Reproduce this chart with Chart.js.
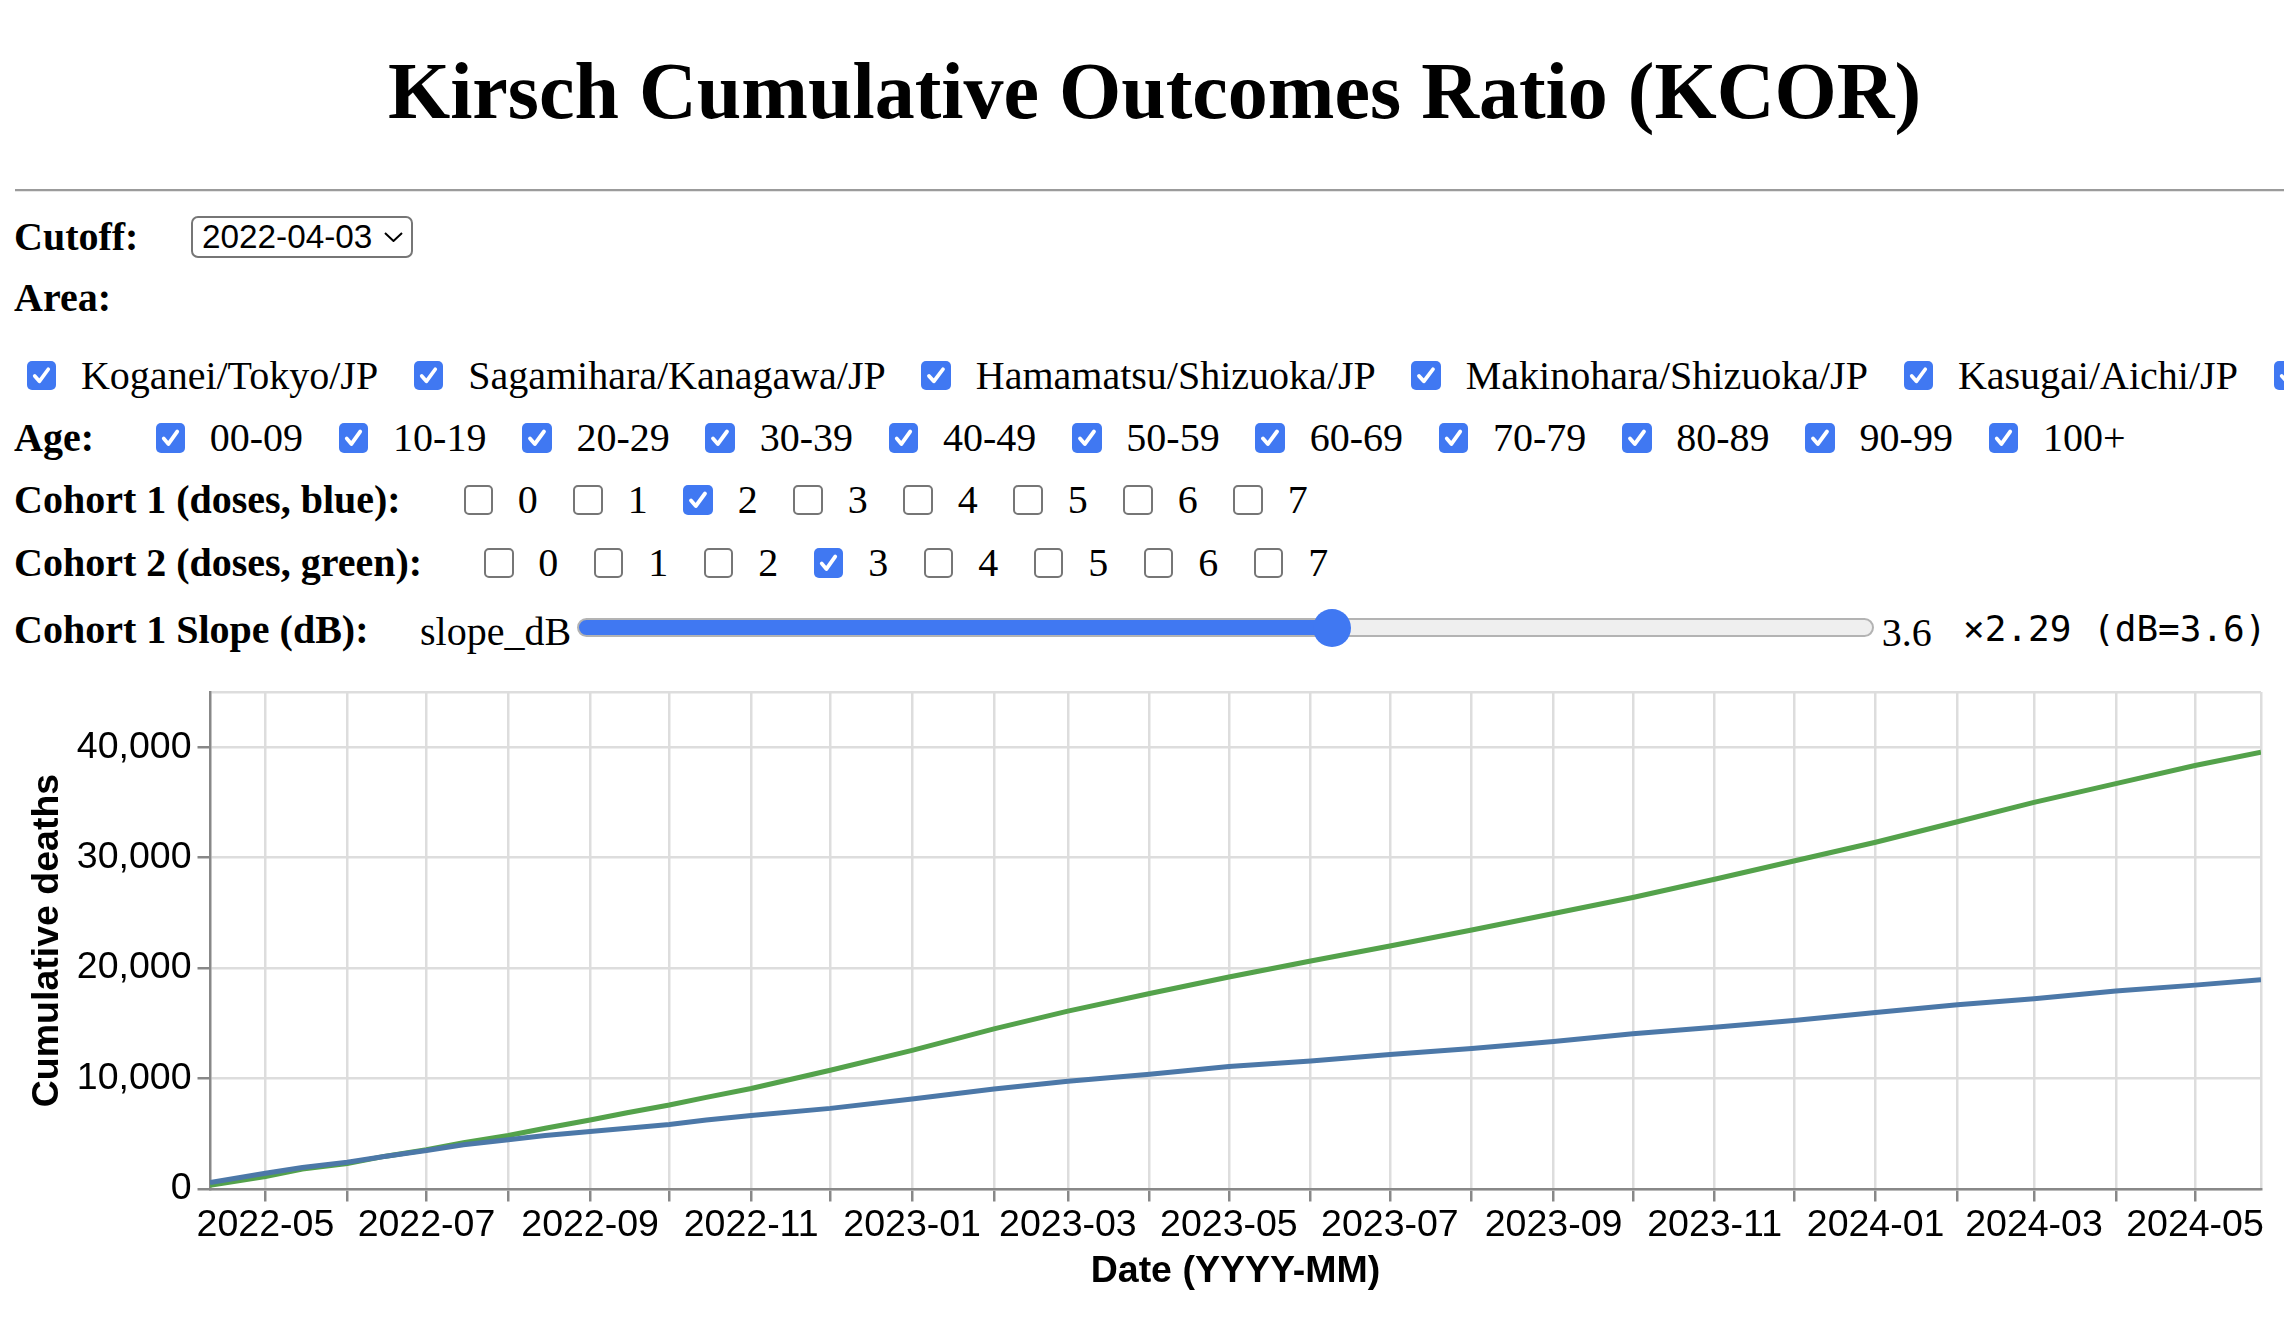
<!DOCTYPE html>
<html>
<head>
<meta charset="utf-8">
<title>Kirsch Cumulative Outcomes Ratio (KCOR)</title>
<script src="https://cdn.jsdelivr.net/npm/chart.js@4.4.1/dist/chart.umd.min.js"></script>
<style>
  html, body { margin: 0; padding: 0; overflow: hidden; background: #fff; }
  body { width: 2284px; height: 1333px; position: relative; color: #000;
         font-family: "Liberation Serif", "Times New Roman", serif; }
  .abs { position: absolute; white-space: nowrap; }
  h1 { position: absolute; left: 0; width: 2309px; top: 41px; margin: 0; text-align: center;
       font-size: 80px; line-height: 100px; font-weight: bold; }
  .rule { position: absolute; left: 15px; width: 2290px; top: 189px; height: 0;
          border-top: 2.5px solid #9b9b9b; border-bottom: 1px solid #e6e6e6; }
  .row-label { font-weight: bold; font-size: 40px; line-height: 50px; }
  .items { display: flex; align-items: center; font-size: 40px; line-height: 50px; height: 50px; }
  .item { display: flex; align-items: center; margin-right: 35.7px; }
  .item span { margin-left: 24.8px; }
  input[type=checkbox] { -webkit-appearance: none; appearance: none; margin: 0; flex: none;
       width: 29.5px; height: 29.5px; border-radius: 5px; box-sizing: border-box;
       border: 2.5px solid #767676; background: #fff; }
  input[type=checkbox]:checked { border: none;
       background: #4078f2 url("data:image/svg+xml,%3Csvg xmlns='http://www.w3.org/2000/svg' viewBox='0 0 30 30'%3E%3Cpath d='M8 15.5 L12.8 21 L22 8.5' fill='none' stroke='white' stroke-width='3.8' stroke-linecap='round' stroke-linejoin='round'/%3E%3C/svg%3E") center / 100% 100% no-repeat; }
  select { position: absolute; left: 191px; top: 215.7px; width: 222px; height: 42.6px; margin: 0;
       -webkit-appearance: none; appearance: none; box-sizing: border-box;
       font: 33.3px "Liberation Sans", Arial, sans-serif; color: #000;
       border: 2.5px solid #767676; border-radius: 7px; padding: 0 0 0 9px;
       background: #fff url("data:image/svg+xml,%3Csvg xmlns='http://www.w3.org/2000/svg' viewBox='0 0 19 10'%3E%3Cpath d='M1 1 L9.5 9 L18 1' fill='none' stroke='black' stroke-width='2'/%3E%3C/svg%3E") no-repeat 190.5px center / 19px 10px; }
  input[type=range] { position: absolute; left: 577px; top: 618px; width: 1297px; height: 19px; margin: 0;
       -webkit-appearance: none; appearance: none; background: transparent; }
  input[type=range]::-webkit-slider-runnable-track { height: 19px; box-sizing: border-box;
       border: 2px solid #b3b3b3; border-radius: 10px; background: var(--fill, #efefef); }
  input[type=range]::-webkit-slider-thumb { -webkit-appearance: none; appearance: none;
       width: 38px; height: 38px; border-radius: 50%; background: #4078f2; border: none; margin-top: -11.5px; }
  .plain { font-size: 40px; line-height: 50px; }
  .mono { font-family: "DejaVu Sans Mono", monospace; font-size: 36px; line-height: 44px; }
  #chart-box { position: absolute; left: 0; top: 640px; width: 2284px; height: 680px; }
</style>
</head>
<body>
<h1>Kirsch Cumulative Outcomes Ratio (KCOR)</h1>
<div class="rule"></div>

<div class="abs row-label" style="left:14px; top:211.5px">Cutoff:</div>
<select id="cutoff"><option>2022-04-03</option></select>

<div class="abs row-label" style="left:14px; top:273px">Area:</div>
<div class="abs items area" id="areas" style="left:26.7px; top:350.5px"></div>

<div class="abs row-label" style="left:14px; top:413px">Age:</div>
<div class="abs items" id="ages" style="left:155.5px; top:413px"></div>

<div class="abs row-label" style="left:14px; top:475px">Cohort 1 (doses, blue):</div>
<div class="abs items" id="cohort1" style="left:463.5px; top:475px"></div>

<div class="abs row-label" style="left:14px; top:538px">Cohort 2 (doses, green):</div>
<div class="abs items" id="cohort2" style="left:484px; top:538px"></div>

<div class="abs row-label" style="left:14px; top:604.5px">Cohort 1 Slope (dB):</div>
<div class="abs plain" style="left:420px; top:606.5px">slope_dB</div>
<input type="range" id="slope" min="-4" max="9" step="0.1" value="3.6">
<div class="abs plain" id="slope-value" style="left:1881.7px; top:608.2px">3.6</div>
<div class="abs mono" id="slope-factor" style="left:1963px; top:607px">×2.29 (dB=3.6)</div>

<div id="chart-box"><canvas id="kcor-chart"></canvas></div>

<script>
"use strict";

// controls
const areas = ["Koganei/Tokyo/JP", "Sagamihara/Kanagawa/JP", "Hamamatsu/Shizuoka/JP",
  "Makinohara/Shizuoka/JP", "Kasugai/Aichi/JP"];
const ages = ["00-09", "10-19", "20-29", "30-39", "40-49", "50-59", "60-69",
  "70-79", "80-89", "90-99", "100+"];
const doses = [0, 1, 2, 3, 4, 5, 6, 7];
const cohort1Doses = [2];
const cohort2Doses = [3];
const slopeDb = 3.6;

// cumulative deaths
const dates = ["2022-04-10", "2022-05-01", "2022-05-15", "2022-06-01", "2022-06-15",
  "2022-07-01", "2022-07-15", "2022-08-01", "2022-08-15", "2022-09-01", "2022-09-15",
  "2022-10-01", "2022-10-15", "2022-11-01", "2022-12-01", "2023-01-01", "2023-02-01",
  "2023-03-01", "2023-04-01", "2023-05-01", "2023-06-01", "2023-07-01", "2023-08-01",
  "2023-09-01", "2023-10-01", "2023-11-01", "2023-12-01", "2024-01-01", "2024-02-01",
  "2024-03-01", "2024-04-01", "2024-05-01", "2024-05-26"];
const cohort1Deaths = [580, 1430, 1950, 2430, 2950, 3480, 4000, 4450, 4850, 5200, 5500,
  5850, 6250, 6650, 7300, 8150, 9050, 9750, 10400, 11100, 11600, 12180, 12720, 13350,
  14060, 14640, 15260, 15990, 16690, 17230, 17920, 18460, 18950];
const cohort2Deaths = [330, 1125, 1800, 2300, 2950, 3560, 4200, 4850, 5500, 6250, 6900,
  7600, 8300, 9100, 10750, 12550, 14500, 16100, 17700, 19200, 20650, 22000, 23450, 24950,
  26400, 28050, 29700, 31400, 33250, 35000, 36700, 38350, 39550];

const monthTicks = ["2022-05", "2022-06", "2022-07", "2022-08", "2022-09", "2022-10",
  "2022-11", "2022-12", "2023-01", "2023-02", "2023-03", "2023-04", "2023-05", "2023-06",
  "2023-07", "2023-08", "2023-09", "2023-10", "2023-11", "2023-12", "2024-01", "2024-02",
  "2024-03", "2024-04", "2024-05"];
const yTicks = [0, 10000, 20000, 30000, 40000];
const yMax = 45000;
const xStart = "2022-04-10";
const xEnd = "2024-05-26";

function toTime(s) {
  const parts = s.split("-").map(Number);
  return Date.UTC(parts[0], parts[1] - 1, parts[2] || 1);
}

function addCheckboxes(containerId, labels, checkedFn) {
  const container = document.getElementById(containerId);
  labels.forEach((label) => {
    const item = document.createElement("label");
    item.className = "item";
    const box = document.createElement("input");
    box.type = "checkbox";
    box.checked = checkedFn(label);
    const text = document.createElement("span");
    text.textContent = label;
    item.appendChild(box);
    item.appendChild(text);
    container.appendChild(item);
  });
}

addCheckboxes("areas", areas, () => true);
// next area is cut off by the window edge
const extraArea = document.createElement("input");
extraArea.type = "checkbox";
extraArea.checked = true;
document.getElementById("areas").appendChild(extraArea);
addCheckboxes("ages", ages, () => true);
addCheckboxes("cohort1", doses, (d) => cohort1Doses.includes(d));
addCheckboxes("cohort2", doses, (d) => cohort2Doses.includes(d));

function paintSlider() {
  const slider = document.getElementById("slope");
  slider.value = slopeDb;
  const pct = (slopeDb - slider.min) / (slider.max - slider.min);
  const x = 19 + pct * (slider.clientWidth - 4 - 38);
  slider.style.setProperty("--fill",
    `linear-gradient(to right, #4078f2 0 ${x}px, #efefef ${x}px)`);
}
paintSlider();

const xMinTime = toTime(xStart);
const xMaxTime = toTime(xEnd);

function toPoints(values) {
  return values.map((v, i) => ({ x: toTime(dates[i]), y: v }));
}

Chart.defaults.font.family = '"Liberation Sans", Arial, sans-serif';
Chart.defaults.color = "#000";

const ctx = document.getElementById("kcor-chart").getContext("2d");
const configuration = {
  type: "line",
  data: {
    datasets: [
      {
        label: "Cohort 1",
        data: toPoints(cohort1Deaths),
        borderColor: "#4c78a8",
        borderWidth: 5,
        pointRadius: 0,
        tension: 0,
        fill: false,
      },
      {
        label: "Cohort 2",
        data: toPoints(cohort2Deaths),
        borderColor: "#54a24b",
        borderWidth: 5,
        pointRadius: 0,
        tension: 0,
        fill: false,
      },
    ],
  },
  options: {
    responsive: true,
    maintainAspectRatio: false,
    devicePixelRatio: 1,
    animation: false,
    layout: { padding: { top: 52, right: 23, bottom: 0, left: 0 } },
    plugins: {
      legend: { display: false },
      tooltip: { enabled: false },
    },
    scales: {
      x: {
        type: "linear",
        min: xMinTime,
        max: xMaxTime,
        afterBuildTicks: (scale) => {
          scale.ticks = monthTicks.map((m) => ({ value: toTime(m) }))
            .concat([{ value: xMaxTime }]);
        },
        afterFit: (scale) => {
          scale.height = 131;
        },
        ticks: {
          autoSkip: false,
          maxRotation: 0,
          minRotation: 0,
          padding: 2,
          font: { size: 37.5 },
          callback: (value) => {
            if (value === xMaxTime) return "";
            const d = new Date(value);
            const month = d.getUTCMonth() + 1;
            if (month % 2 === 0) return "";
            return d.getUTCFullYear() + "-" + String(month).padStart(2, "0");
          },
        },
        grid: {
          color: "#dddddd",
          lineWidth: 2.5,
          tickLength: 12.5,
          tickWidth: 2.5,
          tickColor: (c) => (c.tick && c.tick.value === xMaxTime ? "rgba(0,0,0,0)" : "#888888"),
        },
        border: { color: "#888888", width: 2.5 },
        title: {
          display: true,
          text: "Date (YYYY-MM)",
          font: { size: 37.5, weight: "bold" },
          padding: { top: 0, bottom: 25.5 },
        },
      },
      y: {
        min: 0,
        max: yMax,
        afterBuildTicks: (scale) => {
          scale.ticks = yTicks.concat([yMax]).map((v) => ({ value: v }));
        },
        afterFit: (scale) => {
          scale.width = 210;
        },
        ticks: {
          padding: 6,
          font: { size: 37.5 },
          callback: (value) => (value === yMax ? "" : value.toLocaleString("en-US")),
        },
        grid: {
          color: "#dddddd",
          lineWidth: 2.5,
          tickLength: 12.5,
          tickWidth: 2.5,
          tickColor: (c) => (c.tick && c.tick.value === yMax ? "rgba(0,0,0,0)" : "#888888"),
        },
        border: { color: "#888888", width: 2.5 },
        title: {
          display: true,
          text: "Cumulative deaths",
          font: { size: 37.5, weight: "bold" },
          padding: { top: 25.5, bottom: 0 },
        },
      },
    },
  },
};
const kcorChart = new Chart(ctx, configuration);
</script>
</body>
</html>
